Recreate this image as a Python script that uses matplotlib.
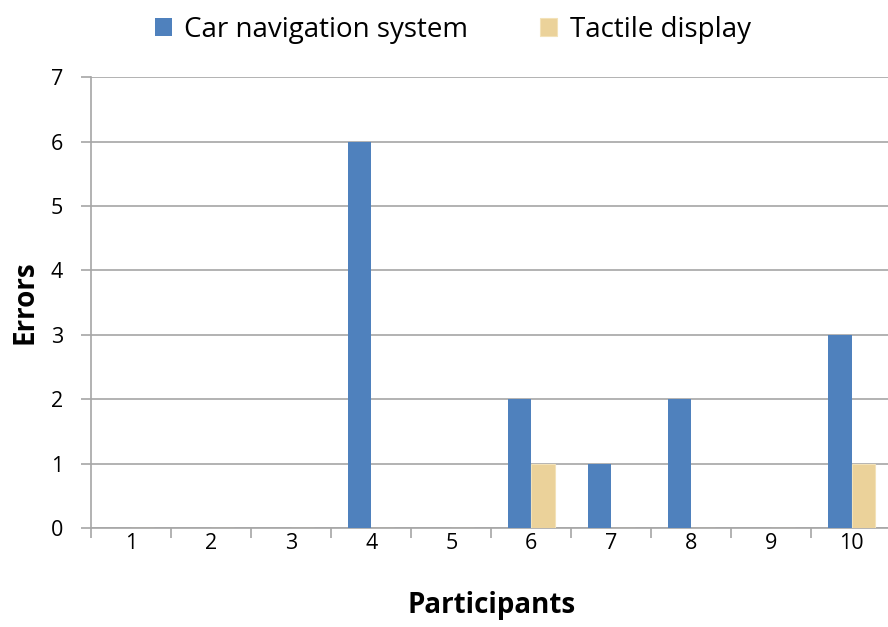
import matplotlib.pyplot as plt
import numpy as np

participants = [1, 2, 3, 4, 5, 6, 7, 8, 9, 10]
car_nav_errors = [0, 0, 0, 6, 0, 2, 1, 2, 0, 3]
tactile_errors = [0, 0, 0, 0, 0, 1, 0, 0, 0, 1]

plt.rcParams['font.family'] = ['Open Sans', 'DejaVu Sans']

fig = plt.figure(figsize=(8.88, 6.27), dpi=100)
ax = fig.add_axes([0.1025, 0.158, 0.9015, 0.719])

x = np.arange(len(participants))
w = 0.29
ax.bar(x - w / 2, car_nav_errors, w, color='#4F81BD', label='Car navigation system', zorder=3)
ax.bar(x + w / 2, tactile_errors, w, color='#EBD29A', edgecolor='#F3E2B8', linewidth=0.8,
       label='Tactile display', zorder=3)

ax.set_xlim(-0.5, len(participants) - 0.5)
ax.set_ylim(0, 7)
ax.set_yticks(range(0, 8))
ax.yaxis.grid(True, color='#A6A6A6', linewidth=1.2)
ax.set_axisbelow(True)

# category labels centred, tick marks on the boundaries
ax.set_xticks(x)
ax.set_xticklabels([str(p) for p in participants])
ax.set_xticks(np.arange(-0.5, len(participants), 1.0), minor=True)
ax.tick_params(axis='x', which='major', length=0, pad=4, labelsize=15.5)
ax.tick_params(axis='x', which='minor', length=7, width=1.2, color='#A6A6A6', direction='out')
ax.tick_params(axis='y', length=7, width=1.2, color='#A6A6A6', pad=13, labelsize=15.5)

for side in ['top', 'right']:
    ax.spines[side].set_visible(False)
for side in ['left', 'bottom']:
    ax.spines[side].set_color('#A6A6A6')
    ax.spines[side].set_linewidth(1.2)

ax.set_ylabel('Errors', fontsize=20, fontweight='bold', labelpad=8)
ax.set_xlabel('Participants', fontsize=20, fontweight='bold', labelpad=26)

fig.legend(loc='upper center', bbox_to_anchor=(0.51, 1.015), ncol=2, frameon=False,
           fontsize=20, handlelength=0.6, handleheight=0.6, handletextpad=0.45,
           columnspacing=2.6)

fig.savefig('out.png', dpi=100)
